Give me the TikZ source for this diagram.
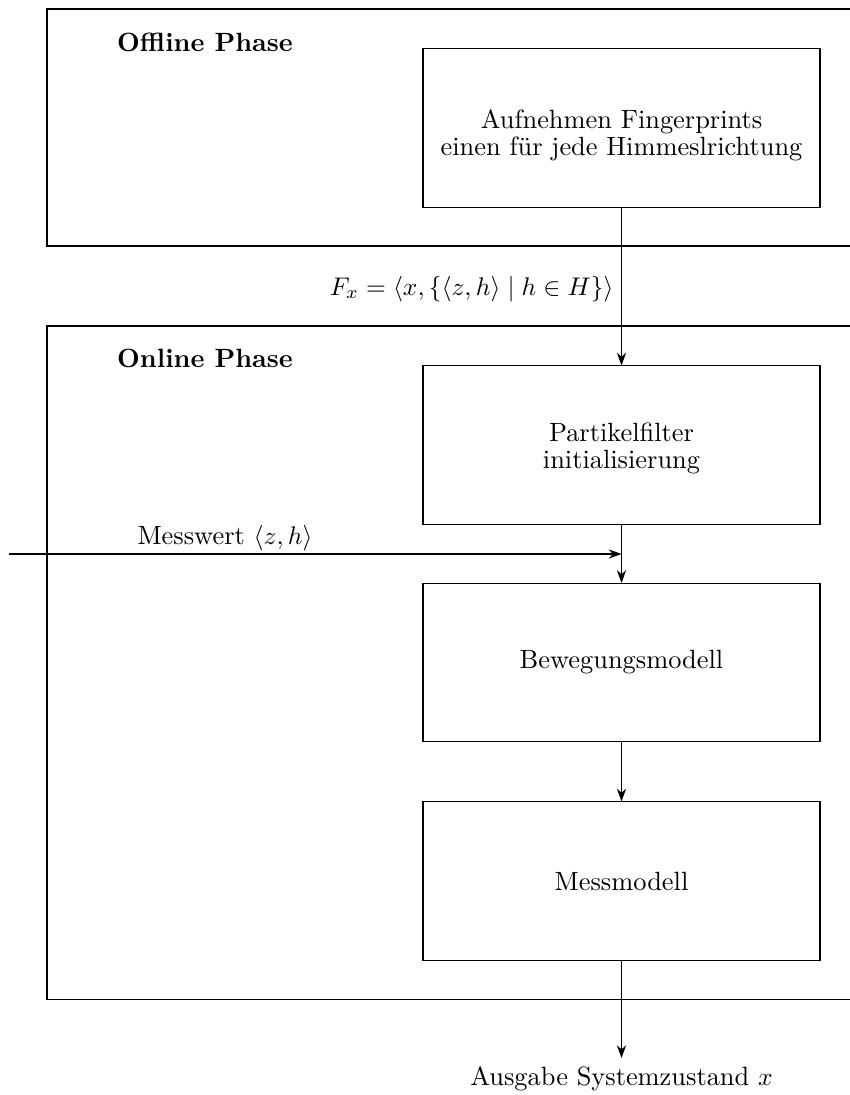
\documentclass[tikz,border=0pt]{standalone}
\usetikzlibrary{arrows.meta}
\begin{document}
\begin{tikzpicture}[x=0.3922pt,y=-0.3922pt,
  every node/.style={font=\fontsize{10.35pt}{10.6pt}\selectfont, inner sep=0pt},
  stepbox/.style={draw, minimum width=155.7pt, minimum height=62pt},
  steptext/.style={align=center},
  phaselabel/.style={font=\fontsize{10.35pt}{10.6pt}\selectfont\bfseries},
  flow/.style={-{Stealth[length=5pt,width=3.6pt,inset=1.6pt]}},
  frame/.style={draw}]
\useasboundingbox (0,0) rectangle (850,1095);
\clip (0,0) rectangle (850,1095);

% phase frames (open to the right)
\draw[frame] (47,9) rectangle (880,246);
\draw[frame] (47,326) rectangle (880,999);
\node[phaselabel] (offl) at (205,42) {Offline Phase};
\node[phaselabel] (onl) at (205,358) {Online Phase};

% processing steps
\node[stepbox] (fp) at (621.5,128) {};
\node[steptext] (fpt) at (621.5,135) {Aufnehmen Fingerprints\\einen f\"ur jede Himmeslrichtung};
\node[stepbox] (pf) at (621.5,445) {};
\node[steptext] (pft) at (621.5,448.5) {Partikelfilter\\initialisierung};
\node[stepbox] (bm) at (621.5,662.5) {};
\node[steptext] (bmt) at (621.5,662.5) {Bewegungsmodell};
\node[stepbox] (mm) at (621.5,881) {};
\node[steptext] (mmt) at (621.5,881) {Messmodell};

% connectors
\draw[flow] (fp.south) -- (pf.north);
\node[anchor=base east] (fx) at (614,295) {$F_x = \langle x, \{\langle z, h\rangle \mid h \in H\}\rangle$};
\draw[flow] (pf.south) -- (bm.north);
\draw[flow] (bm.south) -- (mm.north);

\coordinate (mwin) at (9,554);
\coordinate (mwjoin) at (pf.south |- mwin);
\draw[flow] (mwin) -- (mwjoin);
\node[anchor=base west] (mwl) at (137,544) {Messwert $\langle z, h\rangle$};

\coordinate (outp) at (621.5,1058);
\draw[flow] (mm.south) -- (outp);
\node[anchor=base] (outl) at (621.5,1085) {Ausgabe Systemzustand $x$};
\end{tikzpicture}
\end{document}
